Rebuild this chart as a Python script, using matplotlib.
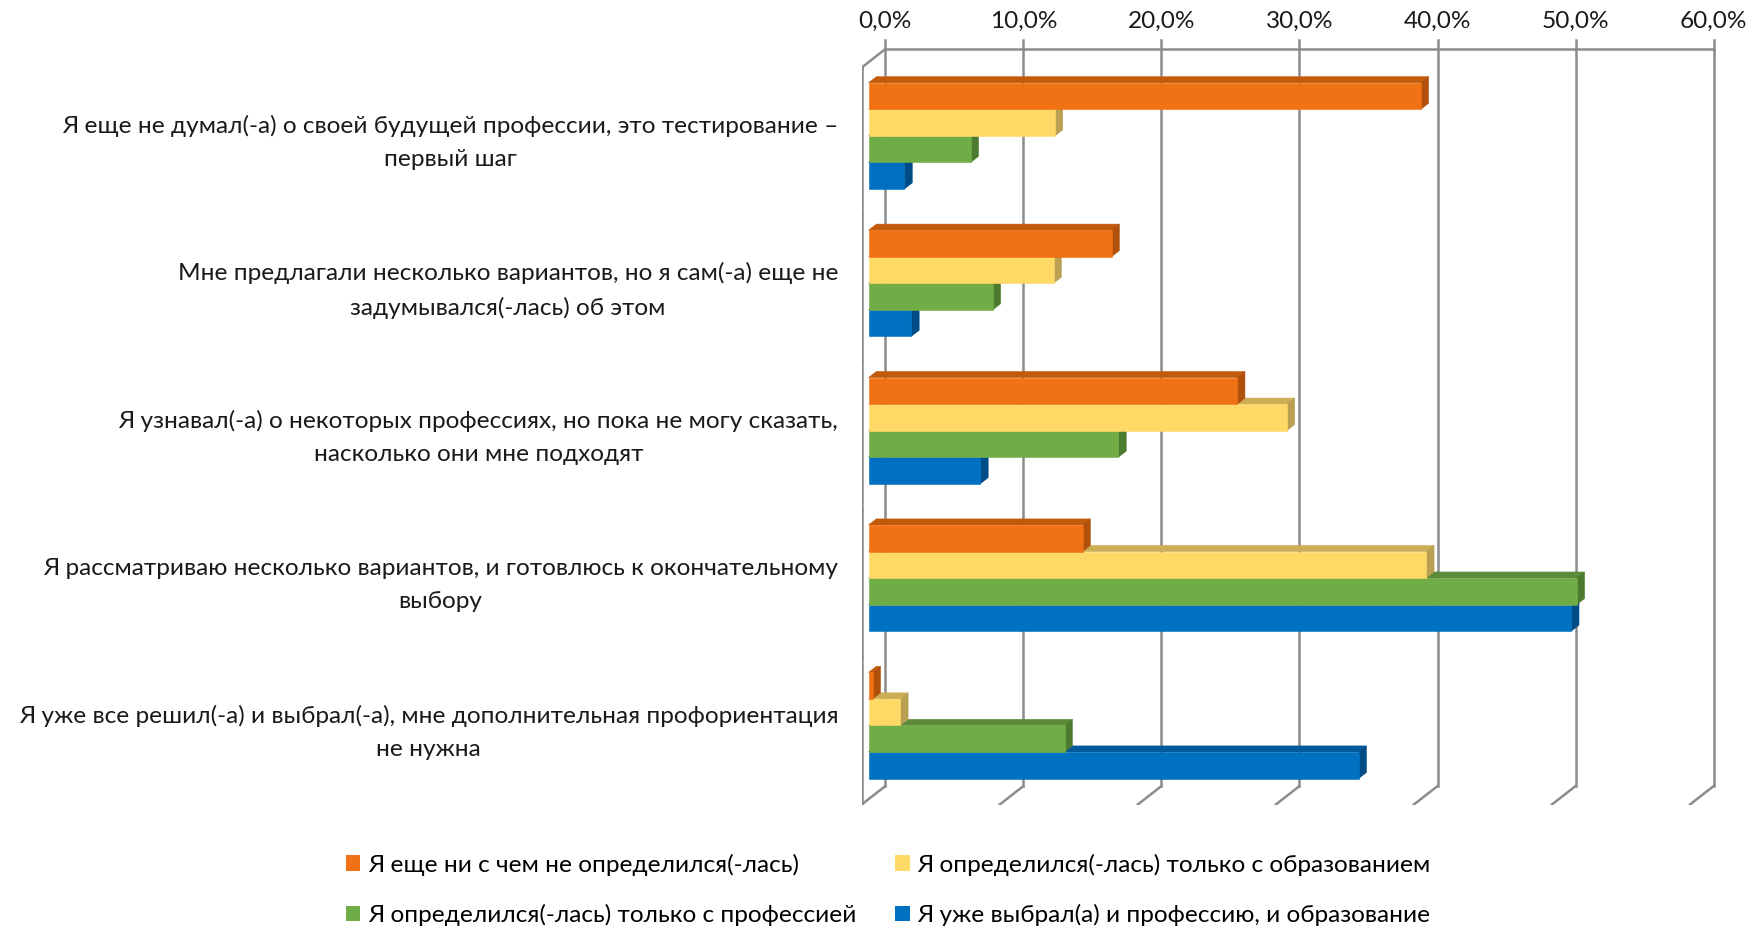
import matplotlib.pyplot as plt
from matplotlib.patches import Polygon, Patch

plt.rcParams['font.family'] = ['Lato', 'DejaVu Sans']

# categories (answers), top to bottom
categories = [
    "Я еще не думал(-а) о своей будущей профессии, это тестирование –\nпервый шаг",
    "Мне предлагали несколько вариантов, но я сам(-а) еще не\nзадумывался(-лась) об этом",
    "Я узнавал(-а) о некоторых профессиях, но пока не могу сказать,\nнасколько они мне подходят",
    "Я рассматриваю несколько вариантов, и готовлюсь к окончательному\nвыбору",
    "Я уже все решил(-а) и выбрал(-а), мне дополнительная профориентация\nне нужна",
]

series_names = [
    "Я еще ни с чем не определился(-лась)",
    "Я определился(-лась) только с образованием",
    "Я определился(-лась) только с профессией",
    "Я уже выбрал(а) и профессию, и образование",
]

# percent values per series, one per category
undecided = [40.0, 17.6, 26.7, 15.5, 0.3]
education_only = [13.5, 13.4, 30.3, 40.4, 2.3]
profession_only = [7.4, 9.0, 18.1, 51.3, 14.2]
both_chosen = [2.6, 3.1, 8.1, 50.9, 35.5]

x_ticks = [0, 10, 20, 30, 40, 50, 60]

series = [undecided, education_only, profession_only, both_chosen]
# front, top, side colours for each series
colors = [
    ("#F07214", "#C25A0C", "#B0500A"),
    ("#FFD966", "#CDAE55", "#B9A052"),
    ("#70AD47", "#5B8A3A", "#4C7A2E"),
    ("#0070C0", "#005A9C", "#004C86"),
]

# oblique 3D offsets (front -> back), in data units
DX = 1.71     # percent
DY = -0.125   # category units (up)
f0, f1 = 0.29, 0.62   # bar depth range
pad = 0.14
bar_h = 0.18

grid_col = "#8C8C8C"
fs = 17.6

fig = plt.figure(figsize=(17.64, 9.26), dpi=100)
ax = fig.add_axes([0.4885, 0.1312, 0.4852, 0.8357])
ax.set_xlim(0, 62)
ax.set_ylim(5, -0.25)
ax.axis('off')

# back wall gridlines + floor diagonals + top ticks
for t in x_ticks:
    ax.plot([t + DX, t + DX], [DY, 5 + DY], color=grid_col, lw=1.8, zorder=1)
    ax.plot([t + DX, t], [5 + DY, 5], color=grid_col, lw=1.8, zorder=1)
    ax.plot([t + DX, t + DX], [DY, DY - 0.06], color=grid_col, lw=1.8, zorder=1)
    ax.text(t + DX, DY - 0.12, f"{t:.1f}%".replace('.', ','), ha='center', va='bottom',
            fontsize=fs, color='#1A1A1A')
# top edge of back wall and side wall
ax.plot([DX, x_ticks[-1] + DX], [DY, DY], color=grid_col, lw=1.8, zorder=1)
ax.plot([0, DX], [0, DY], color=grid_col, lw=1.8, zorder=1)
# category axis with ticks
ax.plot([0, 0], [0, 5], color=grid_col, lw=1.8, zorder=1)
for k in range(len(categories) + 1):
    ax.plot([-0.5, 0], [k, k], color=grid_col, lw=1.8, zorder=1)


def draw_bar(yt, v, cols):
    yb = yt + bar_h
    fx, fy = f0 * DX, f0 * DY
    bx, by = f1 * DX, f1 * DY
    front = [(fx, yt + fy), (fx + v, yt + fy), (fx + v, yb + fy), (fx, yb + fy)]
    top = [(fx, yt + fy), (fx + v, yt + fy), (bx + v, yt + by), (bx, yt + by)]
    side = [(fx + v, yt + fy), (bx + v, yt + by), (bx + v, yb + by), (fx + v, yb + fy)]
    for poly, c in zip([top, side, front], [cols[1], cols[2], cols[0]]):
        ax.add_patch(Polygon(poly, closed=True, facecolor=c, edgecolor=c, lw=0.4, zorder=3))


for i in range(len(categories)):
    for j in reversed(range(len(series))):
        draw_bar(i + pad + j * bar_h, series[j][i], colors[j])
    ax.text(-1.7, i + 0.51, categories[i], ha='right', va='center', multialignment='center',
            fontsize=fs, color='#1A1A1A', linespacing=1.72)

handles = [Patch(facecolor=colors[j][0], edgecolor='none', label=series_names[j]) for j in [0, 2, 1, 3]]
fig.legend(handles=handles, ncol=2, loc='upper left', bbox_to_anchor=(0.196, 0.078), frameon=False,
           fontsize=fs, handlelength=0.6, handleheight=0.6, handletextpad=0.3,
           columnspacing=1.6, labelspacing=1.15, borderaxespad=0, borderpad=0)

fig.savefig("out.png", dpi=100)
